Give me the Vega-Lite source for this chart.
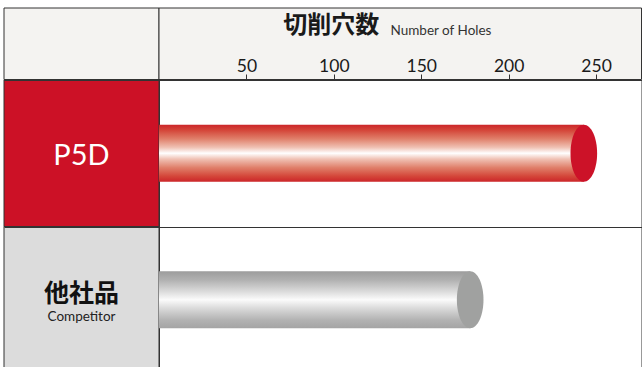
{
  "$schema": "https://vega.github.io/schema/vega-lite/v6.json",
  "padding": {"left": 3, "top": 7, "right": 0, "bottom": 0},
  "background": "white",
  "columns": 2,
  "spacing": 0,
  "bounds": "flush",
  "align": "each",
  "config": {"view": {"stroke": "#333333", "strokeWidth": 1}, "font": "Lato"},
  "datasets": {
    "holes": [
      {"product": "P5D", "label_en": "", "holes": 243},
      {"product": "他社品", "label_en": "Competitor", "holes": 178}
    ]
  },
  "concat": [
    {
      "width": 155,
      "height": 71.5,
      "data": {"values": [{}]},
      "mark": {"type": "rect", "fill": "#f4f3f1", "stroke": "#333333", "strokeWidth": 1},
      "encoding": {}
    },
    {
      "width": 482.5,
      "height": 71.5,
      "data": {"values": [{}]},
      "mark": {"type": "rect", "fill": "#f4f3f1", "stroke": "#333333", "strokeWidth": 1},
      "encoding": {},
      "title": {
        "text": "Number of Holes",
        "anchor": "start",
        "frame": "group",
        "orient": "top",
        "offset": 0,
        "dx": 231.5,
        "dy": 41,
        "baseline": "alphabetic",
        "font": "Lato",
        "fontSize": 13.5,
        "fontWeight": "normal",
        "color": "#333333"
      }
    },
    {
      "width": 155,
      "height": 293,
      "data": {"name": "holes"},
      "encoding": {
        "y": {
          "field": "product",
          "type": "nominal",
          "sort": null,
          "scale": {"paddingInner": 0, "paddingOuter": 0},
          "axis": {"domain": false, "ticks": false, "labels": false, "title": null, "grid": true, "gridColor": "#333333", "gridWidth": 1, "tickBand": "extent", "zindex": 1}
        }
      },
      "layer": [
        {
          "mark": {"type": "rect", "stroke": "#333333", "strokeWidth": 1},
          "encoding": {
            "fill": {
              "field": "product",
              "type": "nominal",
              "scale": {"domain": ["P5D", "他社品"], "range": ["#cc1126", "#dcdcdc"]},
              "legend": null
            }
          }
        },
        {
          "transform": [{"filter": "datum.product === 'P5D'"}],
          "mark": {"type": "text", "font": "Lato", "fontSize": 29, "fontWeight": "normal", "color": "#ffffff", "align": "center", "baseline": "alphabetic", "dy": 11.5},
          "encoding": {"text": {"field": "product"}}
        },
        {
          "transform": [{"filter": "datum.product === '他社品'"}],
          "mark": {"type": "text", "font": "Noto Sans CJK JP", "fontSize": 25, "fontWeight": "bold", "color": "#111111", "align": "center", "baseline": "alphabetic", "dy": 2.5},
          "encoding": {"text": {"field": "product"}}
        },
        {
          "transform": [{"filter": "datum.label_en !== ''"}],
          "mark": {"type": "text", "font": "Lato", "fontSize": 13.5, "fontWeight": "normal", "color": "#222222", "align": "center", "baseline": "alphabetic", "dy": 21},
          "encoding": {"text": {"field": "label_en"}}
        }
      ]
    },
    {
      "width": 482.5,
      "height": 293,
      "data": {"name": "holes"},
      "encoding": {
        "y": {
          "field": "product",
          "type": "nominal",
          "sort": null,
          "scale": {"paddingInner": 0, "paddingOuter": 0},
          "axis": {"domain": false, "ticks": false, "labels": false, "title": null, "grid": true, "gridColor": "#333333", "gridWidth": 1, "tickBand": "extent"}
        },
        "x": {
          "field": "holes",
          "type": "quantitative",
          "scale": {"domain": [0, 276], "nice": false, "zero": false},
          "axis": {
            "orient": "top",
            "values": [50, 100, 150, 200, 250],
            "domain": false,
            "grid": false,
            "ticks": true,
            "tickSize": 6,
            "tickColor": "#333333",
            "tickWidth": 1,
            "labelFont": "Lato",
            "labelFontSize": 17.5,
            "labelColor": "#1a1a1a",
            "labelPadding": 2.5,
            "labelBaseline": "alphabetic",
            "labelFlush": false,
            "labelOverlap": false,
            "title": "切削穴数",
            "titleFont": "Noto Sans CJK JP",
            "titleFontSize": 24,
            "titleFontWeight": "bold",
            "titleColor": "#1a1a1a",
            "titleX": 171.8,
            "titleY": -47.7,
            "titleAlign": "center",
            "titleBaseline": "alphabetic"
          }
        }
      },
      "layer": [
        {
          "transform": [{"filter": "datum.product === 'P5D'"}],
          "mark": {
            "type": "bar",
            "height": {"band": 0.39},
            "fill": {
              "gradient": "linear", "x1": 0, "y1": 0, "x2": 0, "y2": 1,
              "stops": [
                {"offset": 0, "color": "#cc2529"},
                {"offset": 0.1, "color": "#d4473a"},
                {"offset": 0.25, "color": "#e0806b"},
                {"offset": 0.4, "color": "#f0c2b5"},
                {"offset": 0.5, "color": "#ffffff"},
                {"offset": 0.6, "color": "#f0c2b5"},
                {"offset": 0.75, "color": "#e0806b"},
                {"offset": 0.9, "color": "#d4473a"},
                {"offset": 1, "color": "#cc2529"}
              ]
            }
          }
        },
        {
          "transform": [{"filter": "datum.product === 'P5D'"}],
          "mark": {"type": "point", "shape": "M -0.467 0 A 0.467 1 0 1 0 0.467 0 A 0.467 1 0 1 0 -0.467 0 Z", "size": 3249, "filled": true, "fill": "#cc1228", "opacity": 1, "strokeWidth": 0}
        },
        {
          "transform": [{"filter": "datum.product === '他社品'"}],
          "mark": {
            "type": "bar",
            "height": {"band": 0.39},
            "fill": {
              "gradient": "linear", "x1": 0, "y1": 0, "x2": 0, "y2": 1,
              "stops": [
                {"offset": 0, "color": "#9c9c9c"},
                {"offset": 0.15, "color": "#b0b0b0"},
                {"offset": 0.35, "color": "#dadada"},
                {"offset": 0.5, "color": "#fbfbfb"},
                {"offset": 0.65, "color": "#dadada"},
                {"offset": 0.85, "color": "#b3b3b3"},
                {"offset": 1, "color": "#a4a4a4"}
              ]
            }
          }
        },
        {
          "transform": [{"filter": "datum.product === '他社品'"}],
          "mark": {"type": "point", "shape": "M -0.467 0 A 0.467 1 0 1 0 0.467 0 A 0.467 1 0 1 0 -0.467 0 Z", "size": 3249, "filled": true, "fill": "#a0a1a0", "opacity": 1, "strokeWidth": 0}
        }
      ]
    }
  ]
}
